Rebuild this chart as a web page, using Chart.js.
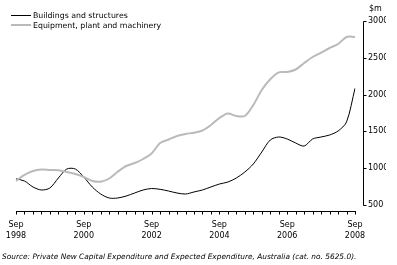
<!DOCTYPE html>
<html>
<head>
<meta charset="utf-8">
<script src="https://cdn.jsdelivr.net/npm/chart.js@4/dist/chart.umd.min.js"></script>
<style>
  body { margin: 0; background: #fff; font-family: "DejaVu Sans", Arial, sans-serif; }
  #wrap { position: relative; width: 397px; height: 265px; }
  #legend { position: absolute; left: 11px; top: 11px; font-size: 7.8px; line-height: 9.5px; color: #000; }
  #legend div { display: flex; align-items: center; white-space: nowrap; }
  #legend span.sw { display: inline-block; width: 20px; margin-right: 2px; }
  #unit { position: absolute; left: 369px; top: 4px; font-size: 8px; }
  #source { position: absolute; left: 2px; top: 252px; font-size: 7.4px; font-style: italic; white-space: nowrap; }
</style>
</head>
<body>
<div id="wrap">
  <canvas id="chart" width="397" height="265"></canvas>
  <div id="legend">
    <div><span class="sw" style="border-top:1px solid #000"></span>Buildings and structures</div>
    <div><span class="sw" style="border-top:2px solid #bababa"></span>Equipment, plant and machinery</div>
  </div>
  <div id="unit">$m</div>
  <div id="source">Source: Private New Capital Expenditure and Expected Expenditure, Australia (cat. no. 5625.0).</div>
</div>
<script>
const quarters = [
  'Sep-98','Dec-98','Mar-99','Jun-99','Sep-99','Dec-99','Mar-00','Jun-00',
  'Sep-00','Dec-00','Mar-01','Jun-01','Sep-01','Dec-01','Mar-02','Jun-02',
  'Sep-02','Dec-02','Mar-03','Jun-03','Sep-03','Dec-03','Mar-04','Jun-04',
  'Sep-04','Dec-04','Mar-05','Jun-05','Sep-05','Dec-05','Mar-06','Jun-06',
  'Sep-06','Dec-06','Mar-07','Jun-07','Sep-07','Dec-07','Mar-08','Jun-08',
  'Sep-08'
];
const yearTicks = ['1998','2000','2002','2004','2006','2008'];
const yTicks = [500, 1000, 1500, 2000, 2500, 3000];

const buildings = [
  855, 826, 745, 704, 731, 867, 989, 989,
  880, 745, 649, 595, 595, 622, 663, 704,
  724, 713, 690, 663, 649, 677, 704, 745,
  785, 812, 867, 948, 1057, 1220, 1383, 1424,
  1397, 1342, 1301, 1397, 1424, 1451, 1505, 1628,
  2085
];
const equipment = [
  826, 908, 962, 982, 976, 971, 948, 921,
  880, 826, 817, 860, 952, 1030, 1071, 1125,
  1200, 1342, 1390, 1437, 1465, 1482, 1512, 1587,
  1682, 1743, 1709, 1709, 1859, 2062, 2208, 2303,
  2307, 2341, 2429, 2511, 2569, 2633, 2687, 2783,
  2783
];

const FONT = '"DejaVu Sans", Arial, sans-serif';

// axis lines and little tick marks, drawn from the scales
const axesPlugin = {
  id: 'axes',
  afterDraw(chart) {
    const ctx = chart.ctx;
    const x = chart.scales.x, y = chart.scales.y;
    const area = chart.chartArea;
    ctx.save();
    ctx.strokeStyle = '#000';
    ctx.lineWidth = 1;
    // x axis
    const xb = Math.round(area.bottom) + 0.5;
    ctx.beginPath();
    ctx.moveTo(x.getPixelForValue(0), xb);
    ctx.lineTo(x.getPixelForValue(quarters.length - 1) + 1, xb);
    for (let i = 0; i < quarters.length; i++) {
      const px = Math.round(x.getPixelForValue(i)) + 0.5;
      ctx.moveTo(px, xb);
      ctx.lineTo(px, xb + 3);
    }
    ctx.stroke();
    // y axis, set a little right of the last point
    const ax = Math.round(area.right) + 8.5;
    ctx.beginPath();
    ctx.moveTo(ax, Math.round(y.getPixelForValue(3000)) + 0.5);
    ctx.lineTo(ax, Math.round(y.getPixelForValue(500)) + 0.5);
    yTicks.forEach(v => {
      const py = Math.round(y.getPixelForValue(v)) + 0.5;
      ctx.moveTo(ax, py);
      ctx.lineTo(ax + 3, py);
    });
    ctx.stroke();
    ctx.restore();
  }
};

new Chart(document.getElementById('chart'), {
  type: 'line',
  data: {
    labels: quarters,
    datasets: [
      {
        label: 'Equipment, plant and machinery',
        data: equipment,
        borderColor: '#bababa',
        borderWidth: 2,
        pointRadius: 0,
        tension: 0.3,
        fill: false
      },
      {
        label: 'Buildings and structures',
        data: buildings,
        borderColor: '#000',
        borderWidth: 1,
        pointRadius: 0,
        tension: 0.3,
        fill: false
      }
    ]
  },
  options: {
    responsive: false,
    animation: false,
    layout: { padding: { left: 16, right: 11, top: 21, bottom: 0 } },
    plugins: {
      legend: { display: false },
      tooltip: { enabled: false }
    },
    scales: {
      x: {
        grid: { display: false, drawTicks: false },
        border: { display: false },
        afterFit: s => { s.height = 54; s.paddingLeft = 0; s.paddingRight = 0; },
        ticks: {
          autoSkip: false,
          maxRotation: 0,
          padding: 8,
          color: '#000',
          font: { family: FONT, size: 8, lineHeight: 1.45 },
          callback: (v, i) => i % 8 === 0 ? ['Sep', yearTicks[i / 8]] : ''
        }
      },
      y: {
        position: 'right',
        min: 418.5,
        max: 3000,
        grid: { display: false, drawTicks: false },
        border: { display: false },
        afterFit: s => { s.width = 31; },
        afterBuildTicks: s => { s.ticks = yTicks.map(v => ({ value: v })); },
        ticks: {
          padding: 13,
          color: '#000',
          font: { family: FONT, size: 8 },
          callback: v => String(v)
        }
      }
    }
  },
  plugins: [axesPlugin]
});
</script>
</body>
</html>
